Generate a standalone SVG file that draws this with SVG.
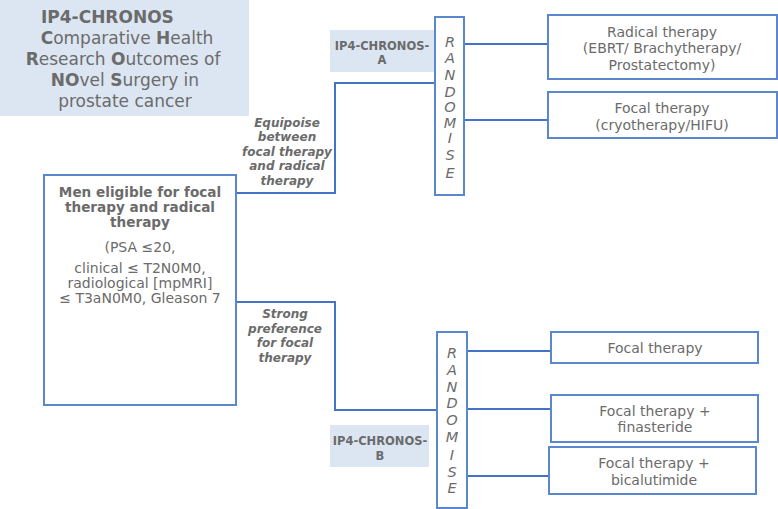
<svg xmlns="http://www.w3.org/2000/svg" width="778" height="509" viewBox="0 0 778 509">
<style>
.t{font-family:"DejaVu Sans",Verdana,sans-serif;fill:#6b6b6b;text-anchor:middle}
.title{font-size:17px}
.b{font-weight:bold}
.bi{font-weight:bold;font-style:italic;font-size:12px}
.n{font-size:14px}
.mb{font-size:13.6px;font-weight:bold}
.r{font-size:14.5px;font-style:italic}
.lab{font-size:11.5px;font-weight:bold}
.box{fill:#fff;stroke:#5b87cf;stroke-width:2}
.hl{fill:#dce6f2}
.c{fill:none;stroke:#4472c4;stroke-width:2}
</style>
<g id="title">
<rect class="hl" x="0" y="0" width="249" height="116"/>
<text class="t title b" x="41" y="23" style="text-anchor:start">IP4-CHRONOS</text>
<text class="t title" x="127" y="44"><tspan class="b">C</tspan>omparative <tspan class="b">H</tspan>ealth</text>
<text class="t title" x="123" y="65"><tspan class="b">R</tspan>esearch <tspan class="b">O</tspan>utcomes of</text>
<text class="t title" x="125" y="86"><tspan class="b">NO</tspan>vel <tspan class="b">S</tspan>urgery in</text>
<text class="t title" x="125" y="107">prostate cancer</text>
</g>
<g id="connectors">
<path class="c" d="M236 193H335V83H438"/>
<path class="c" d="M236 302H335V410H437"/>
<path class="c" d="M463 44H548M463 120H548"/>
<path class="c" d="M466 351H551M466 409H551M466 476H549"/>
</g>
<g id="men">
<rect class="box" x="44" y="175" width="192" height="230"/>
<text class="t mb" x="140" y="197">Men eligible for focal</text>
<text class="t mb" x="140" y="212">therapy and radical</text>
<text class="t mb" x="140" y="227">therapy</text>
<text class="t n" x="140" y="252">(PSA ≤20,</text>
<text class="t n" x="140" y="273">clinical ≤ T2N0M0,</text>
<text class="t n" x="140" y="288">radiological [mpMRI]</text>
<text class="t n" x="140" y="303">≤ T3aN0M0, Gleason 7</text>
</g>
<g id="label-equipoise">
<text class="t bi" x="287" y="127">Equipoise</text>
<text class="t bi" x="287" y="141">between</text>
<text class="t bi" x="287" y="156">focal therapy</text>
<text class="t bi" x="287" y="170">and radical</text>
<text class="t bi" x="287" y="185">therapy</text>
</g>
<g id="label-strong">
<text class="t bi" x="285" y="318">Strong</text>
<text class="t bi" x="285" y="333">preference</text>
<text class="t bi" x="285" y="347">for focal</text>
<text class="t bi" x="285" y="362">therapy</text>
</g>
<g id="chronos-a">
<rect class="hl" x="330" y="30" width="104" height="42"/>
<text class="t lab" x="382" y="50">IP4-CHRONOS-</text>
<text class="t lab" x="382" y="64">A</text>
</g>
<g id="chronos-b">
<rect class="hl" x="330" y="425" width="99" height="42"/>
<text class="t lab" x="380" y="445">IP4-CHRONOS-</text>
<text class="t lab" x="380" y="460">B</text>
</g>
<g id="randomise-a">
<rect class="box" x="435" y="17" width="29" height="178"/>
<text class="t r" x="450"><tspan x="450" y="47">R</tspan><tspan x="450" y="63">A</tspan><tspan x="450" y="80">N</tspan><tspan x="450" y="97">D</tspan><tspan x="450" y="112">O</tspan><tspan x="450" y="128">M</tspan><tspan x="450" y="143">I</tspan><tspan x="450" y="160">S</tspan><tspan x="450" y="178">E</tspan></text>
</g>
<g id="randomise-b">
<rect class="box" x="437" y="332" width="30" height="176"/>
<text class="t r" x="452"><tspan x="452" y="358">R</tspan><tspan x="452" y="375">A</tspan><tspan x="452" y="392">N</tspan><tspan x="452" y="408">D</tspan><tspan x="452" y="425">O</tspan><tspan x="452" y="442">M</tspan><tspan x="452" y="460">I</tspan><tspan x="452" y="477">S</tspan><tspan x="452" y="493">E</tspan></text>
</g>
<g id="radical">
<rect class="box" x="548" y="15" width="229" height="64"/>
<text class="t n" x="662" y="37">Radical therapy</text>
<text class="t n" x="662" y="53">(EBRT/ Brachytherapy/</text>
<text class="t n" x="662" y="70">Prostatectomy)</text>
</g>
<g id="focal-a">
<rect class="box" x="548" y="92" width="229" height="46"/>
<text class="t n" x="662" y="113">Focal therapy</text>
<text class="t n" x="662" y="130">(cryotherapy/HIFU)</text>
</g>
<g id="focal-b1">
<rect class="box" x="551" y="332" width="207" height="31"/>
<text class="t n" x="655" y="353">Focal therapy</text>
</g>
<g id="focal-b2">
<rect class="box" x="551" y="395" width="207" height="47"/>
<text class="t n" x="655" y="416">Focal therapy +</text>
<text class="t n" x="655" y="432">finasteride</text>
</g>
<g id="focal-b3">
<rect class="box" x="549" y="447" width="207" height="47"/>
<text class="t n" x="654" y="468">Focal therapy +</text>
<text class="t n" x="654" y="485">bicalutimide</text>
</g>
</svg>
